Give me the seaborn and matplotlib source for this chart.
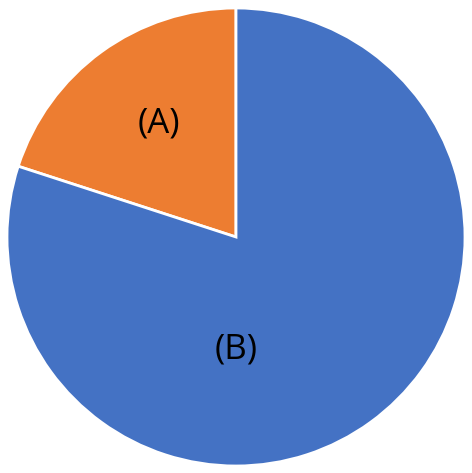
import numpy as np
import matplotlib
matplotlib.use("Agg")
import matplotlib.pyplot as plt
import seaborn as sns

# ---- Data ----
labels = ['(A)', '(B)']
shares = [20, 80]
colors = ['#ED7D31', '#4472C4']
# label placement (angle in degrees, distance as fraction of radius)
label_angle = [124, 270]
label_dist = [0.60, 0.49]

sns.set_style('white')
plt.rcParams['font.family'] = ['Open Sans', 'DejaVu Sans']

fig = plt.figure(figsize=(4.72, 4.73), dpi=100)
ax = fig.add_axes([0, 0, 1, 1])

R = 229.0
wedges, _ = ax.pie(shares, colors=colors, startangle=90, counterclock=True,
                   wedgeprops={'edgecolor': 'white', 'linewidth': 2})

for lab, ang, d in zip(labels, label_angle, label_dist):
    a = np.deg2rad(ang)
    ax.text(d * np.cos(a), d * np.sin(a), lab, ha='center', va='center',
            fontsize=25, color='black')

ax.set_xlim(-236 / R, 236 / R)
ax.set_ylim(-236 / R, 237 / R)
ax.set_aspect('auto')
ax.axis('off')

fig.savefig('out.png', dpi=100)
